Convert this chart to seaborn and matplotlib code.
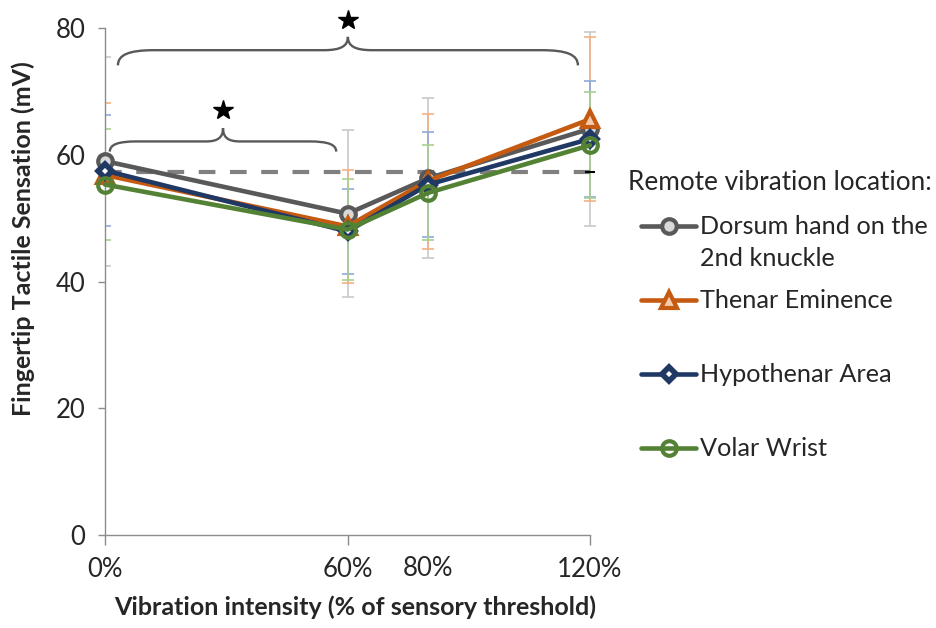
import matplotlib
matplotlib.use("Agg")
import pandas as pd
import matplotlib.pyplot as plt
import matplotlib.transforms as mtransforms
from matplotlib.path import Path
from matplotlib.patches import PathPatch
from matplotlib.lines import Line2D
import seaborn as sns

# data
intensity = [0, 60, 80, 120]
tick_pos = [0, 60, 120]
tick_labels = ["0%", "60%", "120%"]
locations = ["Dorsum hand on the\n2nd knuckle", "Thenar Eminence",
             "Hypothenar Area", "Volar Wrist"]

dorsum = [59.0, 50.7, 56.3, 64.1]
thenar = [56.8, 48.7, 55.9, 65.6]
hypothenar = [57.5, 47.9, 55.3, 62.5]
volar = [55.3, 48.2, 54.0, 61.5]

dorsum_err = [16.5, 13.2, 12.6, 15.3]
thenar_err = [11.3, 8.9, 10.6, 13.0]
thenar_err_lo = [0.0, 9.0, 10.7, 12.9]
hypothenar_err = [8.7, 6.7, 8.3, 9.1]
volar_err = [8.8, 8.0, 7.5, 8.4]

baseline = 57.2
baseline_x = [0, 120]

means = [dorsum, thenar, hypothenar, volar]
errs_hi = [dorsum_err, thenar_err, hypothenar_err, volar_err]
errs_lo = [dorsum_err, thenar_err_lo, hypothenar_err, volar_err]

# styling
line_colors = ["#595959", "#C55A11", "#203864", "#548235"]
err_colors = ["#C9C9C9", "#F4B183", "#8FAADC", "#A9D18E"]
face_colors = ["#D9D9D9", "#F8CBAD", "white", "none"]
markers = ["o", "^", "D", "o"]
msizes = [10.5, 11, 7.5, 10.5]
medges = [3.0, 3.0, 4.0, 3.0]

sns.set_style("white")
plt.rcParams["font.family"] = ["Lato", "DejaVu Sans"]

fig = plt.figure(figsize=(9.36, 6.28), dpi=100)
W, H = 936, 628
px_per_unit = (590 - 105) / 120
ax = fig.add_axes([105 / W, (H - 535) / H, 122 * px_per_unit / W, (535 - 28) / H])

# error bars (behind lines)
for m, lo, hi, ec in zip(means, errs_lo, errs_hi, err_colors):
    ax.errorbar(intensity, m, yerr=[lo, hi], fmt="none", ecolor=ec,
                elinewidth=1.2, capsize=4.5, capthick=1.2, zorder=2)

# baseline dashed
sns.lineplot(x=baseline_x, y=[baseline, baseline], ax=ax, color="#808080",
             lw=3, dashes=(4, 3.5), zorder=3, legend=False)
ax.plot([baseline_x[1]], [baseline], marker="_", color="black", ms=7, mew=1.5, zorder=3)

# series
df = pd.DataFrame({
    "intensity": intensity * 4,
    "value": sum(means, []),
    "location": [loc for loc in locations for _ in intensity],
})
for i, loc in enumerate(locations):
    sub = df[df["location"] == loc]
    sns.lineplot(data=sub, x="intensity", y="value", ax=ax, color=line_colors[i],
                 lw=3.3, marker=markers[i], ms=msizes[i], mfc=face_colors[i],
                 mec=line_colors[i], mew=medges[i], clip_on=False, zorder=4 + i,
                 legend=False)

# axes
ax.set_xlim(0, 122)
ax.set_ylim(0, 80)
ax.set_xticks(tick_pos)
ax.set_xticklabels(tick_labels)
ax.set_yticks([0, 20, 40, 60, 80])
for s in ["top", "right"]:
    ax.spines[s].set_visible(False)
for s in ["left", "bottom"]:
    ax.spines[s].set_color("#8C8C8C")
    ax.spines[s].set_linewidth(1.0)
ax.spines["bottom"].set_bounds(0, 120)
ax.tick_params(axis="y", direction="out", length=5, width=1, color="#8C8C8C",
               labelsize=18.5, pad=9, left=True)
ax.tick_params(axis="x", direction="out", length=7, width=1, color="#8C8C8C",
               labelsize=18.5, pad=9, bottom=True)
ax.set_xlabel("")
ax.set_ylabel("")

# extra 80% label (no tick mark in the original)
trans = mtransforms.blended_transform_factory(ax.transData, ax.transAxes)
ax.text(80, (535 - 569) / 507, "80%", transform=trans, ha="center", va="center",
        fontsize=18.5)

fig.text(355 / W, 1 - 607 / H, "Vibration intensity (% of sensory threshold)",
         ha="center", va="center", fontsize=18, fontweight="bold")
fig.text(23 / W, 1 - 239 / H, "Fingertip Tactile Sensation (mV)", rotation=90,
         ha="center", va="center", fontsize=18, fontweight="bold")


# curly braces with significance stars
def brace(x0, x1, y, drop, rise, end_w, tip_w):
    xc = (x0 + x1) / 2
    verts = [
        (x0, y - drop),
        (x0, y - drop * 0.3), (x0 + end_w * 0.3, y), (x0 + end_w, y),
        (xc - tip_w, y),
        (xc - tip_w * 0.3, y), (xc, y + rise * 0.3), (xc, y + rise),
        (xc, y + rise * 0.3), (xc + tip_w * 0.3, y), (xc + tip_w, y),
        (x1 - end_w, y),
        (x1 - end_w * 0.3, y), (x1, y - drop * 0.3), (x1, y - drop),
    ]
    codes = [Path.MOVETO] + [Path.CURVE4] * 3 + [Path.LINETO] + [Path.CURVE4] * 6 \
        + [Path.LINETO] + [Path.CURVE4] * 3
    ax.add_patch(PathPatch(Path(verts, codes), fill=False, ec="#595959", lw=1.7,
                           clip_on=False, zorder=6))
    return xc, y + rise


xc, top = brace(3.2, 117.0, 76.5, 2.4, 2.1, 9, 6)
ax.plot([xc], [top + 2.7], marker="*", color="black", ms=15, clip_on=False, zorder=7)
xc, top = brace(1.2, 57.2, 62.1, 1.6, 2.1, 6.7, 4.2)
ax.plot([xc], [top + 2.9], marker="*", color="black", ms=15, clip_on=False, zorder=7)

# legend drawn by hand so the handle sits on the first label line
fig.text(628 / W, 1 - 183 / H, "Remote vibration location:", ha="left", va="center",
         fontsize=18.8)
entry_y = [226, 300, 374, 448]
for i, loc in enumerate(locations):
    y = 1 - entry_y[i] / H
    fig.add_artist(Line2D([641 / W, 668.5 / W, 696 / W], [y, y, y], color=line_colors[i],
                          lw=3.3, marker=markers[i], markevery=[1], ms=msizes[i],
                          mfc=face_colors[i], mec=line_colors[i], mew=medges[i]))
    for j, part in enumerate(loc.split("\n")):
        fig.text(700 / W, 1 - (entry_y[i] + 32 * j) / H, part, ha="left", va="center",
                 fontsize=18.2)

fig.savefig("out.png", dpi=100)
